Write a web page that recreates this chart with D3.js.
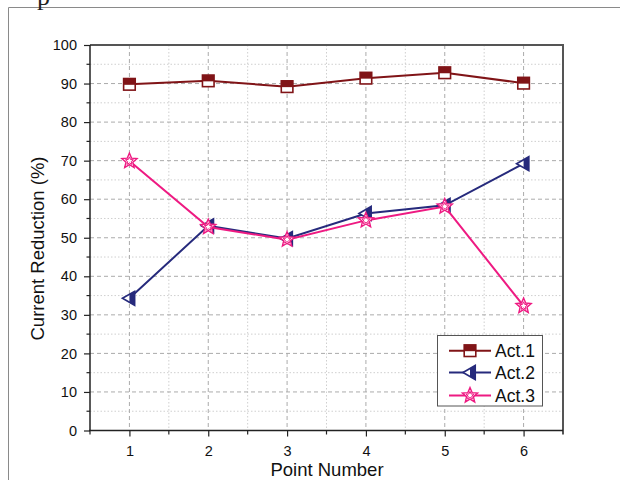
<!DOCTYPE html>
<html><head><meta charset="utf-8">
<script src="https://cdn.jsdelivr.net/npm/d3@7"></script>
<style>body{margin:0;background:#fff}svg{display:block}</style>
</head><body>
<script>
const points = [1, 2, 3, 4, 5, 6];
const act1 = [89.8, 90.7, 89.2, 91.4, 92.8, 90.1];
const act2 = [34.3, 53.1, 49.8, 56.3, 58.4, 69.2];
const act3 = [69.9, 52.8, 49.5, 54.5, 58.1, 32.3];
const seriesNames = ["Act.1", "Act.2", "Act.3"];
const yTicks = [0, 10, 20, 30, 40, 50, 60, 70, 80, 90, 100];
const xTicks = [1, 2, 3, 4, 5, 6];

const W = 620, H = 480;
const L = 90, R = 563, T = 45, B = 430.5;
const FONT = "Liberation Sans, Arial, sans-serif";
const svg = d3.select("body").append("svg").attr("width", W).attr("height", H);

// outer frame of the page
svg.append("path").attr("d", "M8.5,480 L8.5,7.5 L620,7.5").attr("fill", "none").attr("stroke", "#8a8a8a").attr("stroke-width", 1);
svg.append("text").attr("x", 37).attr("y", 5).attr("font-family", "Liberation Serif, serif").attr("font-size", 26).attr("fill", "#222").text("p");

const x = d3.scaleLinear().domain([0.5, 6.5]).range([L, R]);
const y = d3.scaleLinear().domain([0, 100]).range([B, T]);

const minorX = [1.5, 2.5, 3.5, 4.5, 5.5];
const minorY = d3.range(5, 100, 10);

const grid = svg.append("g");
grid.selectAll(".mx").data(minorX).enter().append("line")
  .attr("x1", d => x(d)).attr("x2", d => x(d)).attr("y1", T).attr("y2", B)
  .attr("stroke", "#cfcfcf").attr("stroke-dasharray", "1.5,2").attr("stroke-width", 1);
grid.selectAll(".my").data(minorY).enter().append("line")
  .attr("x1", L).attr("x2", R).attr("y1", d => y(d)).attr("y2", d => y(d))
  .attr("stroke", "#cfcfcf").attr("stroke-dasharray", "1.5,2").attr("stroke-width", 1);
grid.selectAll(".Mx").data(xTicks).enter().append("line")
  .attr("x1", d => x(d)).attr("x2", d => x(d)).attr("y1", T).attr("y2", B)
  .attr("stroke", "#ababab").attr("stroke-dasharray", "4,3").attr("stroke-width", 1);
grid.selectAll(".My").data(yTicks.filter(d => d > 0 && d < 100)).enter().append("line")
  .attr("x1", L).attr("x2", R).attr("y1", d => y(d)).attr("y2", d => y(d))
  .attr("stroke", "#ababab").attr("stroke-dasharray", "4,3").attr("stroke-width", 1);

// top and right frame
svg.append("line").attr("x1", L).attr("x2", R + 1).attr("y1", T).attr("y2", T).attr("stroke", "#555").attr("stroke-width", 2);
svg.append("line").attr("x1", R).attr("x2", R).attr("y1", T).attr("y2", B + 4).attr("stroke", "#555").attr("stroke-width", 2);

// axes
const yAxis = d3.axisLeft(y).tickValues(yTicks).tickFormat(d3.format("d")).tickSize(6).tickPadding(7);
const gy = svg.append("g").attr("transform", `translate(${L},0)`).call(yAxis);
gy.selectAll("text").attr("font-family", FONT).attr("font-size", 14.5).attr("fill", "#111");
gy.select(".domain").attr("stroke", "#222").attr("stroke-width", 1.5).attr("d", `M0,${B}V${T}`);
gy.selectAll(".tick line").attr("stroke", "#222").attr("stroke-width", 1.2);
svg.append("g").selectAll("line").data(minorY).enter().append("line")
  .attr("x1", L - 3.5).attr("x2", L).attr("y1", d => y(d)).attr("y2", d => y(d)).attr("stroke", "#222").attr("stroke-width", 1.2);

const xAxis = d3.axisBottom(x).tickValues(xTicks).tickFormat(d3.format("d")).tickSize(6).tickPadding(9);
const gx = svg.append("g").attr("transform", `translate(0,${B})`).call(xAxis);
gx.selectAll("text").attr("font-family", FONT).attr("font-size", 14.5).attr("fill", "#111");
gx.select(".domain").attr("stroke", "#222").attr("stroke-width", 1.5).attr("d", `M${L - 1},0H${R}`);
gx.selectAll(".tick line").attr("stroke", "#222").attr("stroke-width", 1.2);
svg.append("g").selectAll("line").data(minorX.concat([0.5])).enter().append("line")
  .attr("x1", d => x(d)).attr("x2", d => x(d)).attr("y1", B).attr("y2", B + 4).attr("stroke", "#222").attr("stroke-width", 1.2);

// axis titles
svg.append("text").attr("x", 327).attr("y", 475.5).attr("text-anchor", "middle")
  .attr("font-family", FONT).attr("font-size", 18.5).attr("fill", "#111").text("Point Number");
svg.append("text").attr("transform", `translate(43.5,248.5) rotate(-90)`).attr("text-anchor", "middle")
  .attr("font-family", FONT).attr("font-size", 18.5).attr("fill", "#111").text("Current Reduction (%)");

const colors = ["#801417", "#262a7c", "#ee1a82"];
const data = [act1, act2, act3];

// markers
function marker(g, i, cx, cy) {
  const c = colors[i];
  if (i === 0) {
    const h = 5.8;
    g.append("rect").attr("x", cx - h).attr("y", cy - h).attr("width", 2 * h).attr("height", 2 * h).attr("fill", "#fff").attr("stroke", c).attr("stroke-width", 1.6);
    g.append("rect").attr("x", cx - h).attr("y", cy - h).attr("width", 2 * h).attr("height", h + 0.5).attr("fill", c);
  } else if (i === 1) {
    const h = 7;
    const tri = `M${cx - h},${cy} L${cx + h * 0.75},${cy - h} L${cx + h * 0.75},${cy + h} Z`;
    g.append("path").attr("d", tri).attr("fill", "#fff").attr("stroke", c).attr("stroke-width", 1.6).attr("stroke-linejoin", "miter");
    g.append("path").attr("d", `M${cx},${cy - h * 0.57} L${cx + h * 0.75},${cy - h} L${cx + h * 0.75},${cy + h} L${cx},${cy + h * 0.57} Z`).attr("fill", c);
  } else {
    const star = (ro, ri) => {
      const pts = [];
      for (let k = 0; k < 10; k++) {
        const a = -Math.PI / 2 + k * Math.PI / 5;
        const r = k % 2 === 0 ? ro : ri;
        pts.push([cx + r * Math.cos(a), cy + r * Math.sin(a)]);
      }
      return "M" + pts.map(p => p.join(",")).join("L") + "Z";
    };
    g.append("path").attr("d", star(8, 3.6)).attr("fill", "#fff").attr("stroke", c).attr("stroke-width", 1.4);
    g.append("path").attr("d", star(4.2, 1.9)).attr("fill", "none").attr("stroke", c).attr("stroke-width", 1);
  }
}

const line = d3.line().x((d, i) => x(points[i])).y(d => y(d));
data.forEach((vals, i) => {
  const g = svg.append("g");
  g.append("path").datum(vals).attr("d", line).attr("fill", "none").attr("stroke", colors[i]).attr("stroke-width", 2);
  vals.forEach((v, j) => marker(g, i, x(points[j]), y(v)));
});

// legend
const lg = svg.append("g");
lg.append("rect").attr("x", 437.5).attr("y", 335.5).attr("width", 105).attr("height", 70.5).attr("fill", "#fff").attr("stroke", "#555").attr("stroke-width", 1);
const ly = [350.7, 372.5, 395.5];
seriesNames.forEach((n, i) => {
  lg.append("line").attr("x1", 449).attr("x2", 491).attr("y1", ly[i]).attr("y2", ly[i]).attr("stroke", colors[i]).attr("stroke-width", 2);
  marker(lg, i, 470, ly[i]);
  lg.append("text").attr("x", 495).attr("y", ly[i] + 6).attr("font-family", FONT).attr("font-size", 17.5).attr("fill", "#111").text(n);
});
</script>
</body></html>
